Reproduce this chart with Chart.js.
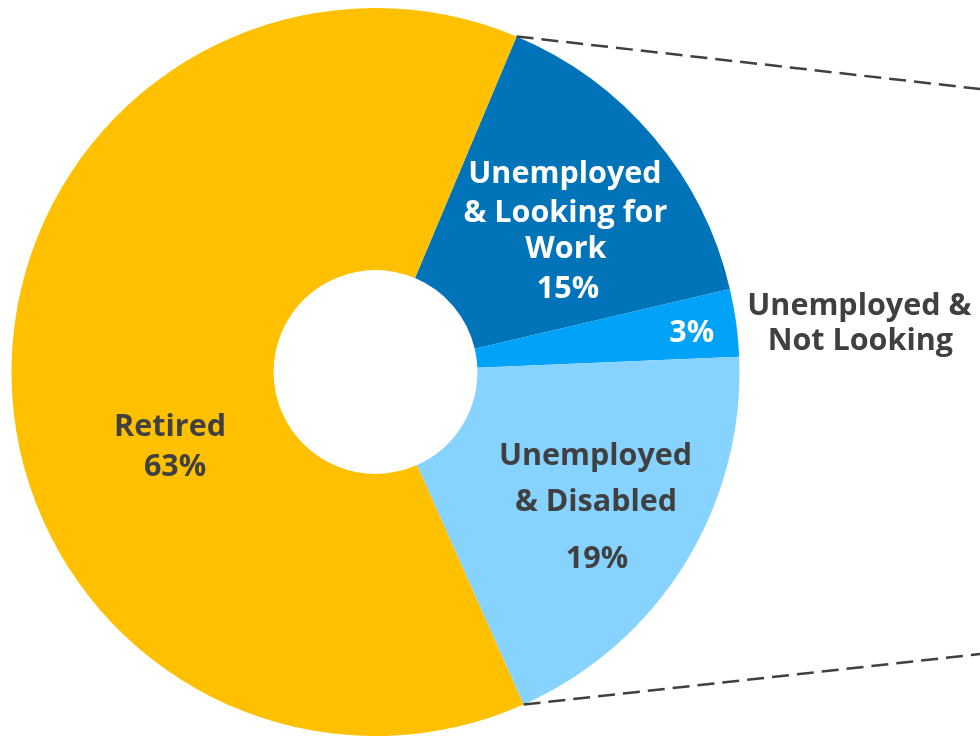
<!DOCTYPE html>
<html>
<head>
<meta charset="utf-8">
<script src="https://cdn.jsdelivr.net/npm/chart.js@4.4.1/dist/chart.umd.min.js"></script>
<style>
  html, body { margin: 0; padding: 0; background: #fff; }
  #wrap { width: 980px; height: 736px; }
</style>
</head>
<body>
<div id="wrap"><canvas id="myChart" width="980" height="736"></canvas></div>
<script>
var categories = ['Unemployed & Looking for Work', 'Unemployed & Not Looking', 'Unemployed & Disabled', 'Retired'];
var values = [15, 3, 19, 63];
var colors = ['#0174B9', '#00A3F7', '#87D3FF', '#FFC000'];

// label lines per slice: text, colour, offset from the slice's ring centre
var labelLines = [
  [['Unemployed', '#fff', 11.5, -38.6], ['& Looking for', '#fff', 12, 0], ['Work', '#fff', 12.5, 36.4], ['15%', '#fff', 14.5, 76.4]],
  [['3%', '#fff', 85.5, 2], ['Unemployed &', '#404040', 253, -25], ['Not Looking', '#404040', 254, 10]],
  [['Unemployed', '#404040', 22, -30], ['& Disabled', '#404040', 22.5, 16], ['19%', '#404040', 23.5, 73]],
  [['Retired', '#404040', 27.5, 62], ['63%', '#404040', 32.5, 102]]
];

var labelPlugin = {
  id: 'sliceLabels',
  afterDatasetsDraw: function(chart) {
    var ctx = chart.ctx;
    var arcs = chart.getDatasetMeta(0).data;
    ctx.save();

    // dashed "zoom" lines from the edges of the unemployed group
    var first = arcs[0], last = arcs[2];
    var p1 = [first.x + first.outerRadius * Math.cos(first.startAngle), first.y + first.outerRadius * Math.sin(first.startAngle)];
    var p2 = [last.x + last.outerRadius * Math.cos(last.endAngle), last.y + last.outerRadius * Math.sin(last.endAngle)];
    ctx.strokeStyle = '#404040';
    ctx.lineWidth = 2.5;
    ctx.setLineDash([17, 8]);
    ctx.beginPath();
    ctx.moveTo(p1[0], p1[1]); ctx.lineTo(chart.width, 89);
    ctx.moveTo(p2[0], p2[1]); ctx.lineTo(chart.width, 654);
    ctx.stroke();
    ctx.setLineDash([]);

    ctx.font = 'bold 30.5px "Open Sans"';
    ctx.textAlign = 'center';
    ctx.textBaseline = 'alphabetic';
    arcs.forEach(function(arc, i) {
      var pos = arc.tooltipPosition();
      labelLines[i].forEach(function(l) {
        ctx.fillStyle = l[1];
        ctx.fillText(l[0], pos.x + l[2], pos.y + l[3]);
      });
    });
    ctx.restore();
  }
};

var ctx = document.getElementById('myChart').getContext('2d');
var myChart = new Chart(ctx, {
  type: 'doughnut',
  data: {
    labels: categories,
    datasets: [{
      data: values,
      backgroundColor: colors,
      borderWidth: 0
    }]
  },
  options: {
    responsive: false,
    animation: false,
    rotation: 22.8,
    cutout: '28%',
    layout: { padding: { left: 11.5, right: 240.5, top: 8, bottom: 0 } },
    plugins: { legend: { display: false }, tooltip: { enabled: false } }
  },
  plugins: [labelPlugin]
});
</script>
</body>
</html>
